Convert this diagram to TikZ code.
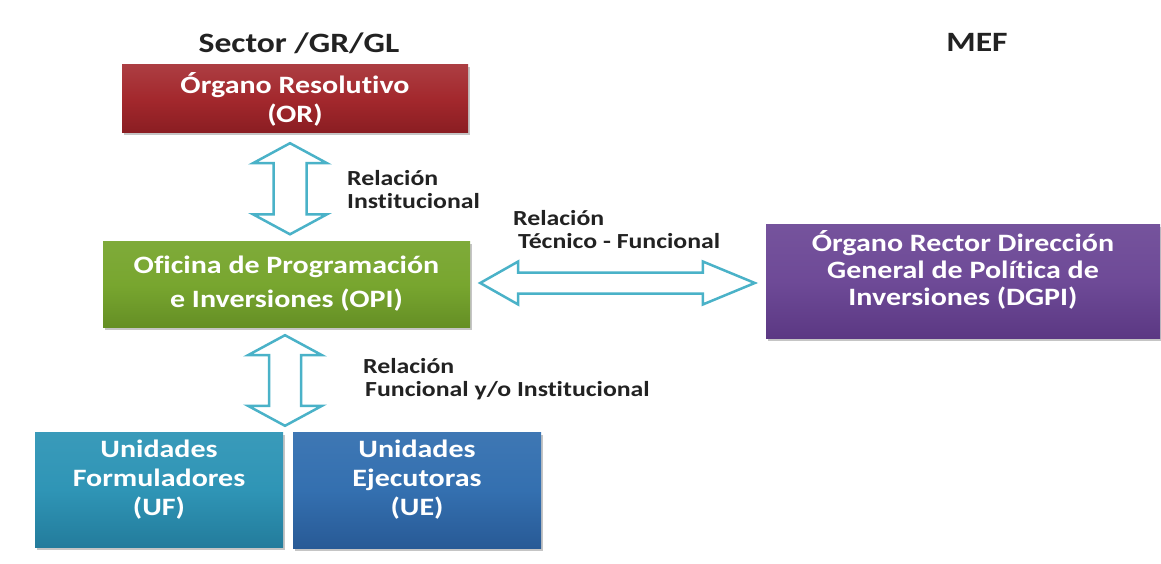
\documentclass[tikz,border=0pt]{standalone}
\usepackage{fontspec}
\newfontfamily\cfont{Carlito}[FakeStretch=1.2, Ligatures={NoCommon}]
\usetikzlibrary{calc,shadows}
\definecolor{orred}{HTML}{A3282D}
\definecolor{ordark}{HTML}{8A1D22}
\definecolor{opigreen}{HTML}{78A62F}
\definecolor{opidark}{HTML}{658F25}
\definecolor{dgpipurple}{HTML}{6E4A97}
\definecolor{dgpidark}{HTML}{5B3883}
\definecolor{ufteal}{HTML}{2F95B6}
\definecolor{ufdark}{HTML}{237C9C}
\definecolor{ueblue}{HTML}{3470B0}
\definecolor{uedark}{HTML}{285A96}
\definecolor{arrteal}{HTML}{4AB2C8}
\definecolor{labtext}{HTML}{222222}
\tikzset{
  box/.style={rectangle, draw=none, inner sep=0pt,
    drop shadow={shadow xshift=2pt, shadow yshift=-2.5pt, opacity=0.45}},
  boxtext/.style={text=white, align=center, inner sep=0pt,
    font=\cfont\bfseries\fontsize{25}{29}\selectfont},
  title/.style={text=labtext, inner sep=0pt,
    font=\cfont\bfseries\fontsize{28}{32}\selectfont},
  lab/.style={text=labtext, align=left, anchor=west, inner sep=0pt,
    font=\cfont\bfseries\fontsize{21.5}{23}\selectfont},
  dbl/.style={draw=arrteal, fill=white, line width=2.5pt, line join=miter}
}
\begin{document}
\begin{tikzpicture}[x=1pt,y=1pt]
\useasboundingbox (0,0) rectangle (1161,563);
\fill[white] (0,0) rectangle (1161,563);

% titles
\node[title] (t1) at (299,520) {Sector /GR/GL};
\node[title] (t2) at (977,521) {MEF};

% boxes
\node[box, minimum width=346, minimum height=68,
  top color=orred!90!white, bottom color=ordark, middle color=orred] (or) at (295,464) {};
\node[boxtext] (ort) at (or.center) {Órgano Resolutivo\\(OR)};

\node[box, minimum width=367, minimum height=85,
  top color=opigreen!95!white, bottom color=opidark, middle color=opigreen] (opi) at (286.5,278.5) {};
\node[boxtext, font=\cfont\bfseries\fontsize{25}{34}\selectfont] (opit) at ([yshift=1]opi.center) {Oficina de Programación\\e Inversiones (OPI)};

\node[box, minimum width=394, minimum height=114,
  top color=dgpipurple!95!white, bottom color=dgpidark, middle color=dgpipurple] (dgpi) at (963,281.5) {};
\node[boxtext, font=\cfont\bfseries\fontsize{25}{27}\selectfont] (dgpit) at ([yshift=11.5]dgpi.center) {Órgano Rector Dirección\\General de Política de\\Inversiones (DGPI)};

\node[box, minimum width=248, minimum height=115,
  top color=ufteal!95!white, bottom color=ufdark, middle color=ufteal] (uf) at (159,73.5) {};
\node[boxtext] (uft) at ([yshift=9.5]uf.center) {Unidades\\Formuladores\\(UF)};

\node[box, minimum width=248, minimum height=116,
  top color=ueblue!95!white, bottom color=uedark, middle color=ueblue] (ue) at (417,73) {};
\node[boxtext] (uet) at ([yshift=10]ue.center) {Unidades\\Ejecutoras\\(UE)};

% arrow end points
\coordinate (a1t) at ($(or.south)+(-5,-10)$);
\coordinate (a1b) at ($(opi.north)+(3.5,7.5)$);
\coordinate (a2t) at ($(opi.south)+(-1.5,-8)$);
\coordinate (ufue) at ($(uf.north east)!0.5!(ue.north west)$);
\coordinate (a2b) at ($(ufue)+(-3,6)$);
\coordinate (a3l) at ($(opi.east)+(10,1.5)$);
\coordinate (a3r) at ($(dgpi.west)+(-11,-1.5)$);

% vertical double arrows
\draw[dbl] let \p1=(a1t), \p2=(a1b) in
  (\p1) -- (\x1+37,\y1-20) -- (\x1+16.5,\y1-20) -- (\x2+16.5,\y2+20) -- (\x2+37,\y2+20)
  -- (\p2) -- (\x2-37,\y2+20) -- (\x2-16.5,\y2+20) -- (\x1-16.5,\y1-20) -- (\x1-37,\y1-20) -- cycle;
\draw[dbl] let \p1=(a2t), \p2=(a2b) in
  (\p1) -- (\x1+37,\y1-20) -- (\x1+16,\y1-20) -- (\x2+16,\y2+20) -- (\x2+37,\y2+20)
  -- (\p2) -- (\x2-37,\y2+20) -- (\x2-16,\y2+20) -- (\x1-16,\y1-20) -- (\x1-37,\y1-20) -- cycle;
% horizontal double arrow
\draw[dbl] let \p1=(a3l), \p2=(a3r) in
  (\p1) -- (\x1+38,\y1+21.5) -- (\x1+38,\y1+10.5) -- (\x2-52,\y2+10.5) -- (\x2-52,\y2+21.5)
  -- (\p2) -- (\x2-52,\y2-21.5) -- (\x2-52,\y2-10.5) -- (\x1+38,\y1-10.5) -- (\x1+38,\y1-21.5) -- cycle;

% labels
\node[lab] (l1) at (347,373.5) {Relación\\Institucional};
\node[lab] (l2) at (513,333) {Relación\\\hspace*{5pt}Técnico - Funcional};
\node[lab] (l3) at (363,184) {Relación\\\hspace*{2pt}Funcional y/o Institucional};
\end{tikzpicture}
\end{document}
